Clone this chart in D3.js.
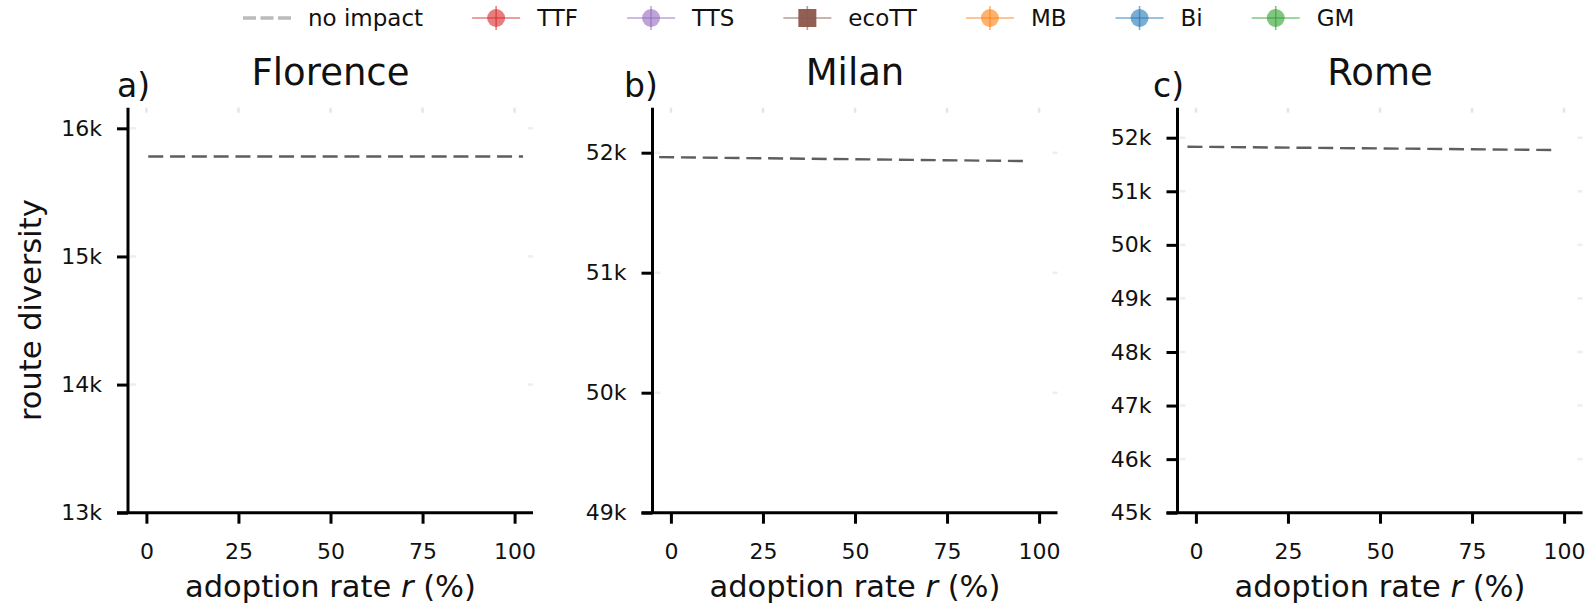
<!DOCTYPE html>
<html>
<head>
<meta charset="utf-8">
<script src="https://cdn.jsdelivr.net/npm/d3@7"></script>
<style>
  html, body { margin: 0; padding: 0; background: #ffffff; }
  svg { display: block; font-family: "DejaVu Sans", sans-serif; }
</style>
</head>
<body>
<svg id="chart" width="1587" height="606"></svg>
<script>
// ---------------- data ----------------
const cities = ["Florence", "Milan", "Rome"];
const panelLetters = ["a)", "b)", "c)"];
const xTicks = [0, 25, 50, 75, 100];
const xDomain = [-5, 105];
const yTicksFlorence = [13000, 14000, 15000, 16000];
const yTicksMilan = [49000, 50000, 51000, 52000];
const yTicksRome = [45000, 46000, 47000, 48000, 49000, 50000, 51000, 52000];
const yDomainFlorence = [13000, 16161];
const yDomainMilan = [49000, 52375];
const yDomainRome = [45000, 52560];
// "no impact" reference line: x extent and y values at its two ends
const noImpactXFlorence = [0.5, 102.3];
const noImpactYFlorence = [15780, 15780];
const noImpactXMilan = [-3.2, 96.9];
const noImpactYMilan = [51963, 51930];
const noImpactXRome = [-2.3, 97.7];
const noImpactYRome = [51832, 51770];
// legend
const legendLabels = ["no impact", "TTF", "TTS", "ecoTT", "MB", "Bi", "GM"];
const legendColors = ["#bbbbbb", "#d62728", "#9467bd", "#8c564b", "#ff7f0e", "#1f77b4", "#2ca02c"];
const legendShapes = ["dash", "circle", "circle", "square", "circle", "circle", "circle"];
const xLabel = "adoption rate ";
const yLabel = "route diversity";

// ---------------- layout ----------------
const svg = d3.select("#chart");
const panelLeft = [128, 652.5, 1177.5];
const panelTop = 107.7, panelW = 405, panelH = 405;
const letterX = [117, 624, 1153];
const FONT = "DejaVu Sans";

const panels = [
  { yTicks: yTicksFlorence, yDomain: yDomainFlorence, nx: noImpactXFlorence, ny: noImpactYFlorence },
  { yTicks: yTicksMilan, yDomain: yDomainMilan, nx: noImpactXMilan, ny: noImpactYMilan },
  { yTicks: yTicksRome, yDomain: yDomainRome, nx: noImpactXRome, ny: noImpactYRome }
];

panels.forEach((p, i) => {
  const g = svg.append("g").attr("transform", `translate(${panelLeft[i]},${panelTop})`);
  const x = d3.scaleLinear().domain(xDomain).range([0, panelW]);
  const y = d3.scaleLinear().domain(p.yDomain).range([panelH, 0]);

  // faint inner ticks (top & sides)
  g.selectAll(".ftop").data(xTicks).enter().append("line")
    .attr("x1", d => x(d)).attr("x2", d => x(d))
    .attr("y1", 0).attr("y2", 5)
    .attr("stroke", "#e6e6e6").attr("stroke-width", 2.5);
  g.selectAll(".fleft").data(p.yTicks).enter().append("line")
    .attr("x1", 2).attr("x2", 8)
    .attr("y1", d => y(d)).attr("y2", d => y(d))
    .attr("stroke", "#eeeeee").attr("stroke-width", 2.5);
  g.selectAll(".fright").data(p.yTicks).enter().append("line")
    .attr("x1", panelW - 5).attr("x2", panelW)
    .attr("y1", d => y(d)).attr("y2", d => y(d))
    .attr("stroke", "#eeeeee").attr("stroke-width", 2.5);

  // no impact line
  const line = d3.line().x(d => x(d[0])).y(d => y(d[1]));
  g.append("path")
    .datum([[p.nx[0], p.ny[0]], [p.nx[1], p.ny[1]]])
    .attr("d", line)
    .attr("fill", "none")
    .attr("stroke", "#5e5e5e")
    .attr("stroke-width", 2.4)
    .attr("stroke-dasharray", "15,6.8");

  // axes
  const xAxis = d3.axisBottom(x).tickValues(xTicks).tickSize(11).tickPadding(6).tickFormat(d3.format("d"));
  const yAxis = d3.axisLeft(y).tickValues(p.yTicks).tickSize(11).tickPadding(15)
    .tickFormat(d => (d / 1000) + "k");

  const gx = g.append("g").attr("transform", `translate(0,${panelH})`).call(xAxis);
  const gy = g.append("g").call(yAxis);
  [gx, gy].forEach(ax => {
    ax.select(".domain").attr("stroke", "#000").attr("stroke-width", 3);
    ax.selectAll(".tick line").attr("stroke", "#000").attr("stroke-width", 3);
    ax.selectAll(".tick text").attr("fill", "#111")
      .style("font-family", FONT).style("font-size", "22px");
  });
  gx.select(".domain").attr("d", `M${-11},0H${panelW}`);
  gy.select(".domain").attr("d", `M0,0V${panelH}`);
  gx.selectAll(".tick text").attr("dy", null).attr("y", 0)
    .attr("transform", "translate(0,46)");

  // title
  svg.append("text")
    .attr("x", panelLeft[i] + panelW / 2).attr("y", 85)
    .attr("text-anchor", "middle")
    .style("font-family", FONT).style("font-size", "37px").attr("fill", "#111")
    .text(cities[i]);
  // panel letter
  svg.append("text")
    .attr("x", letterX[i]).attr("y", 97)
    .style("font-family", FONT).style("font-size", "33px").attr("fill", "#111")
    .text(panelLetters[i]);
  // x label
  const xl = svg.append("text")
    .attr("x", panelLeft[i] + panelW / 2).attr("y", 597)
    .attr("text-anchor", "middle")
    .style("font-family", FONT).style("font-size", "30.5px").attr("fill", "#111");
  xl.append("tspan").text(xLabel);
  xl.append("tspan").style("font-style", "italic").text("r");
  xl.append("tspan").text(" (%)");
});

// y label
svg.append("text")
  .attr("transform", `translate(41,${panelTop + panelH / 2}) rotate(-90)`)
  .attr("text-anchor", "middle")
  .style("font-family", FONT).style("font-size", "30.5px").attr("fill", "#111")
  .text(yLabel);

// ---------------- legend ----------------
const legY = 18;
const handleLen = 48, textPad = 17, colSpace = 49;
let cx = 243;
const leg = svg.append("g");
legendLabels.forEach((lab, i) => {
  const col = legendColors[i];
  const item = leg.append("g");
  const mid = cx + handleLen / 2;
  if (legendShapes[i] === "dash") {
    item.append("line").attr("x1", cx).attr("x2", cx + handleLen)
      .attr("y1", legY).attr("y2", legY)
      .attr("stroke", col).attr("stroke-width", 3.5).attr("stroke-dasharray", "13,4.5");
  } else {
    item.append("line").attr("x1", cx).attr("x2", cx + handleLen)
      .attr("y1", legY).attr("y2", legY)
      .attr("stroke", col).attr("stroke-opacity", 0.6).attr("stroke-width", 1.6);
    item.append("line").attr("x1", mid).attr("x2", mid)
      .attr("y1", legY - 12).attr("y2", legY + 12)
      .attr("stroke", col).attr("stroke-opacity", 0.6).attr("stroke-width", 1.6);
    if (legendShapes[i] === "square") {
      item.append("rect").attr("x", mid - 9).attr("y", legY - 9)
        .attr("width", 18).attr("height", 18)
        .attr("fill", col).attr("fill-opacity", 0.95);
    } else {
      item.append("circle").attr("cx", mid).attr("cy", legY).attr("r", 9)
        .attr("fill", col).attr("fill-opacity", 0.6);
    }
  }
  const t = item.append("text")
    .attr("x", cx + handleLen + textPad).attr("y", legY + 8)
    .style("font-family", FONT).style("font-size", "23px").attr("fill", "#111")
    .text(lab);
  const tw = t.node().getComputedTextLength();
  cx += handleLen + textPad + tw + colSpace;
});
</script>
</body>
</html>
